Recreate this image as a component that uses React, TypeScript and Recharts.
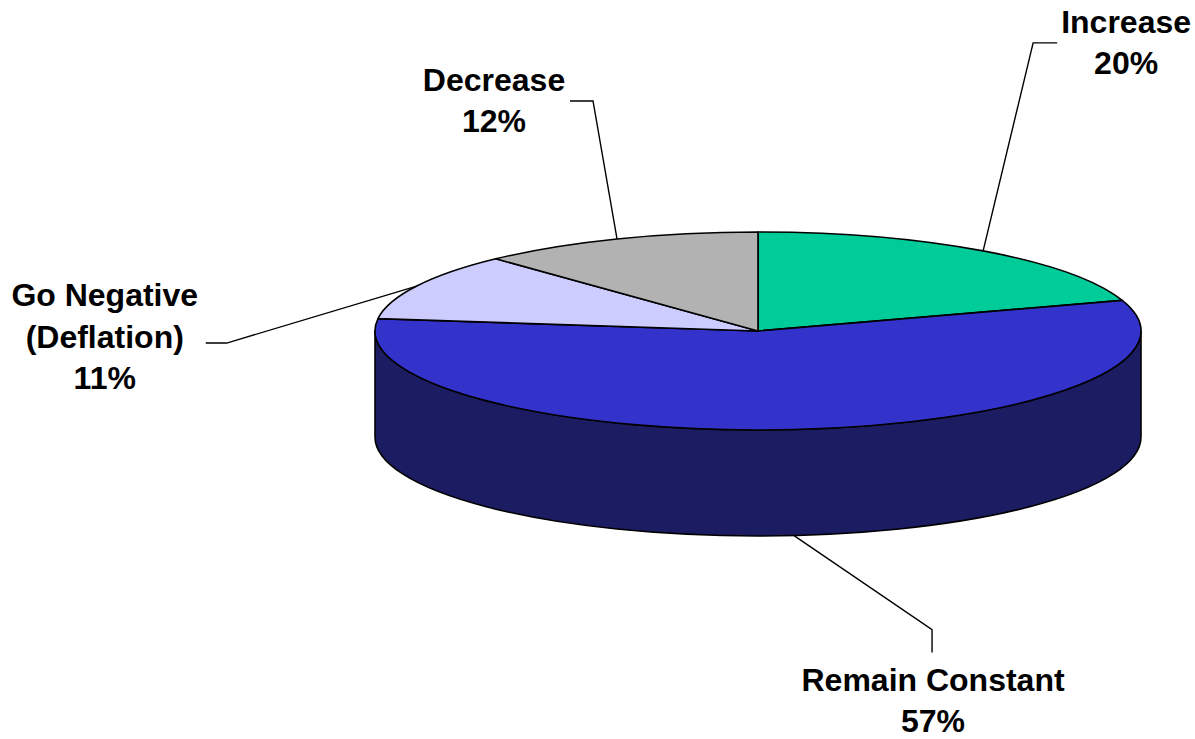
import React from 'react';
import { PieChart, Pie } from 'recharts';

// ---- data ----
const categories = ['Increase', 'Remain Constant', 'Go Negative (Deflation)', 'Decrease'];
const labelTexts = [['Increase'], ['Remain Constant'], ['Go Negative', '(Deflation)'], ['Decrease']];
const values = [20, 57, 11, 12];

// ---- styles / layout ----
const topColors = ['#00CC99', '#3333CC', '#CCCCFF', '#B2B2B2'];
const sideColors = ['#007A5C', '#1C1C63', '#7A7A99', '#6B6B6B'];
const TILT = 99 / 383;
const DEPTH = 106;
const FONT = "'Liberation Sans', Arial, Helvetica, sans-serif";
const FONT_SIZE = 32;
const LINE_H = 41.5;
// leader line geometry, relative to the computed anchor on the pie
const leaderLayout = [
  { elbow: [50, -208], end: [24, 0], text: [69, -10] },
  { elbow: [138, 94], end: [0, 23], text: [1, 38] },
  { elbow: [-190, 57], end: [-21, 0], text: [-101, -37] },
  { elbow: [-24, -138], end: [-23, 0], text: [-76, -10] },
];

const data = categories.map((name, i) => ({ name, value: values[i] }));

const RAD = Math.PI / 180;
const pt = (cx: number, cy: number, rx: number, ry: number, a: number) => [
  cx + rx * Math.cos(a * RAD),
  cy - ry * Math.sin(a * RAD),
];

const renderSide = (p: any) => {
  const { cx, cy, outerRadius, startAngle, endAngle, index } = p;
  const rx = outerRadius;
  const ry = outerRadius * TILT;
  const s = Math.max(startAngle, endAngle);
  const e = Math.min(startAngle, endAngle);
  const hi = Math.min(s, 0);
  const lo = Math.max(e, -180);
  if (!(lo < hi)) return <g />;
  const [x1, y1] = pt(cx, cy, rx, ry, hi);
  const [x2, y2] = pt(cx, cy, rx, ry, lo);
  const large = hi - lo > 180 ? 1 : 0;
  const d = `M${x1},${y1} A${rx},${ry} 0 ${large} 1 ${x2},${y2} L${x2},${y2 + DEPTH} A${rx},${ry} 0 ${large} 0 ${x1},${y1 + DEPTH} Z`;
  return <path d={d} fill={sideColors[index]} stroke="#000" strokeWidth={1.6} strokeLinejoin="round" />;
};

const renderTop = (p: any) => {
  const { cx, cy, outerRadius, startAngle, endAngle, index } = p;
  const rx = outerRadius;
  const ry = outerRadius * TILT;
  const [x1, y1] = pt(cx, cy, rx, ry, startAngle);
  const [x2, y2] = pt(cx, cy, rx, ry, endAngle);
  const large = Math.abs(startAngle - endAngle) > 180 ? 1 : 0;
  const sweep = startAngle > endAngle ? 1 : 0;
  const d = `M${cx},${cy} L${x1},${y1} A${rx},${ry} 0 ${large} ${sweep} ${x2},${y2} Z`;
  return <path d={d} fill={topColors[index]} stroke="#000" strokeWidth={1.6} strokeLinejoin="round" />;
};

const renderLabel = (p: any) => {
  const { cx, cy, outerRadius, midAngle, index, percent } = p;
  const rx = outerRadius;
  const ry = outerRadius * TILT;
  let [ax, ay] = pt(cx, cy, rx, ry, midAngle);
  if (Math.sin(midAngle * RAD) < 0) ay += DEPTH;
  const L = leaderLayout[index];
  const ex = ax + L.elbow[0];
  const ey = ay + L.elbow[1];
  const fx = ex + L.end[0];
  const fy = ey + L.end[1];
  const tx = fx + L.text[0];
  const ty = fy + L.text[1];
  const lines = [...labelTexts[index], `${Math.round(percent * 100)}%`];
  return (
    <g>
      <polyline points={`${ax},${ay} ${ex},${ey} ${fx},${fy}`} fill="none" stroke="#000" strokeWidth={1.4} />
      <text x={tx} y={ty} textAnchor="middle" fontFamily={FONT} fontWeight="bold" fontSize={FONT_SIZE} fill="#000">
        {lines.map((t, i) => (
          <tspan key={i} x={tx} y={ty + i * LINE_H}>
            {t}
          </tspan>
        ))}
      </text>
    </g>
  );
};

const pieCommon = {
  data,
  dataKey: 'value',
  nameKey: 'name',
  cx: 758,
  cy: 331,
  innerRadius: 0,
  outerRadius: 383,
  startAngle: 90,
  endAngle: -270,
  fill: 'none',
  stroke: 'none',
  labelLine: false,
  isAnimationActive: false,
} as const;

export default function App() {
  return (
    <div style={{ position: 'absolute', left: 0, top: 0, width: 1195, height: 739, background: '#fff' }}>
      <PieChart width={1195} height={739} margin={{ top: 0, right: 0, bottom: 0, left: 0 }}>
        <Pie {...(pieCommon as any)} label={renderSide} />
        <Pie {...(pieCommon as any)} label={renderTop} />
        <Pie {...(pieCommon as any)} label={renderLabel} />
      </PieChart>
    </div>
  );
}
